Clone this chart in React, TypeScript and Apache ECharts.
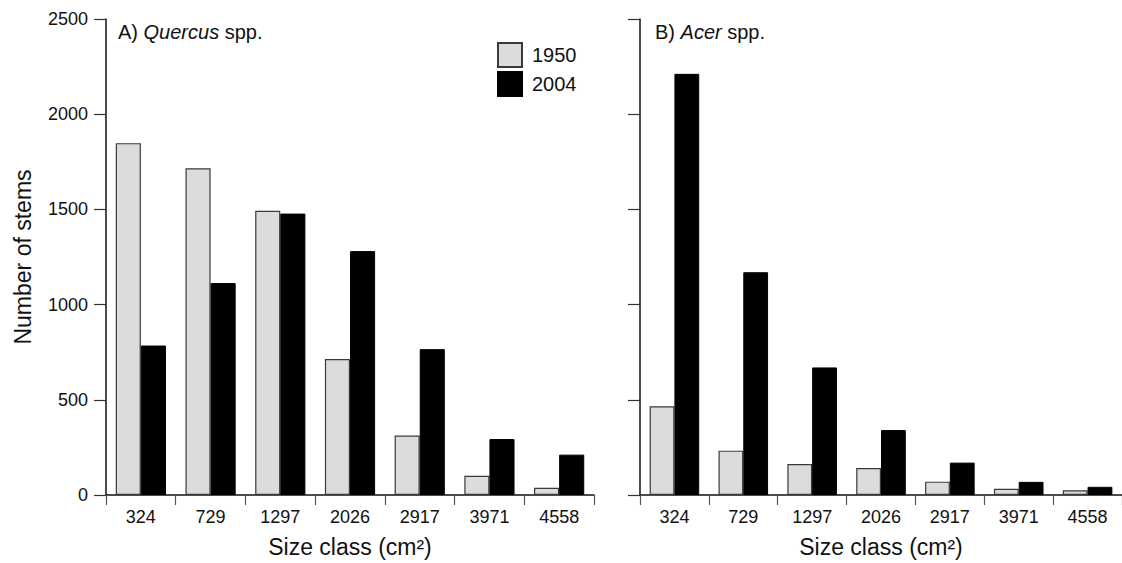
import React, { useEffect, useRef } from "react";
import * as echarts from "echarts";

const sizeClasses = ["324", "729", "1297", "2026", "2917", "3971", "4558"];
const years = ["1950", "2004"];
const quercus1950 = [1848, 1716, 1493, 714, 312, 101, 38];
const quercus2004 = [785, 1113, 1478, 1281, 766, 294, 212];
const acer1950 = [466, 233, 163, 142, 70, 33, 25];
const acer2004 = [2212, 1170, 670, 341, 170, 69, 43];
const yTicks = { min: 0, max: 2500, interval: 500 };

const FONT = "'Liberation Sans', Arial, Helvetica, sans-serif";
const INK = "#111";

export default function App() {
  const ref = useRef<HTMLDivElement>(null);

  useEffect(() => {
    const chart = echarts.init(ref.current as HTMLDivElement, null, { renderer: "svg" });

    const xAxisBase = (gridIndex: number) => ({
      type: "category",
      gridIndex,
      data: sizeClasses,
      boundaryGap: true,
      axisLine: { show: true, lineStyle: { color: INK, width: 1.5 } },
      axisTick: { show: true, alignWithLabel: false, length: 10, lineStyle: { color: "#555", width: 1.2 } },
      axisLabel: { fontSize: 18, margin: 13, color: INK, fontFamily: FONT },
      name: "Size class (cm\u00B2)",
      nameLocation: "middle",
      nameGap: 40,
      nameTextStyle: { fontSize: 23, color: INK, fontFamily: FONT },
      splitLine: { show: false },
    });

    const yAxisBase = (gridIndex: number, showLabels: boolean) => ({
      type: "value",
      gridIndex,
      min: yTicks.min,
      max: yTicks.max,
      interval: yTicks.interval,
      axisLine: { show: true, lineStyle: { color: INK, width: 1.5 } },
      axisTick: { show: true, inside: false, length: 12, lineStyle: { color: "#333", width: 1.2 } },
      axisLabel: {
        show: showLabels,
        fontSize: 18,
        margin: 18,
        color: INK,
        fontFamily: FONT,
        formatter: (v: number) => String(v),
      },
      splitLine: { show: false },
      ...(showLabels
        ? {
            name: "Number of stems",
            nameLocation: "middle",
            nameRotate: 90,
            nameGap: 72,
            nameTextStyle: { fontSize: 23, color: INK, fontFamily: FONT },
          }
        : {}),
    });

    const lightStyle = { color: "#dcdcdc", borderColor: "#3a3a3a", borderWidth: 1.2 };
    const darkStyle = { color: "#000", borderColor: "#000", borderWidth: 1 };

    const bar = (name: string, data: number[], idx: number, style: any) => ({
      type: "bar",
      name,
      data,
      xAxisIndex: idx,
      yAxisIndex: idx,
      barGap: "0%",
      barCategoryGap: "28%",
      itemStyle: style,
      emphasis: { disabled: true },
    });

    chart.setOption({
      animation: false,
      backgroundColor: "#fff",
      textStyle: { fontFamily: FONT },
      title: [
        {
          text: "A) {i|Quercus} spp.",
          left: 118,
          top: 22,
          padding: 0,
          textStyle: {
            fontSize: 20,
            fontWeight: "normal",
            color: INK,
            fontFamily: FONT,
            rich: { i: { fontStyle: "italic", fontSize: 20, color: INK, fontFamily: FONT } },
          },
        },
        {
          text: "B) {i|Acer} spp.",
          left: 655,
          top: 22,
          padding: 0,
          textStyle: {
            fontSize: 20,
            fontWeight: "normal",
            color: INK,
            fontFamily: FONT,
            rich: { i: { fontStyle: "italic", fontSize: 20, color: INK, fontFamily: FONT } },
          },
        },
      ],
      legend: {
        data: years,
        orient: "vertical",
        left: 497,
        top: 42,
        padding: 0,
        itemWidth: 24,
        itemHeight: 24,
        itemGap: 3,
        icon: "rect",
        selectedMode: false,
        textStyle: { fontSize: 20, color: INK, fontFamily: FONT, padding: [0, 0, 0, 5] },
      },
      grid: [
        { left: 106, top: 19, width: 488, height: 480 },
        { left: 640, top: 19, width: 490, height: 480 },
      ],
      xAxis: [xAxisBase(0), xAxisBase(1)],
      yAxis: [yAxisBase(0, true), yAxisBase(1, false)],
      series: [
        bar(years[0], quercus1950, 0, lightStyle),
        bar(years[1], quercus2004, 0, darkStyle),
        bar(years[0], acer1950, 1, lightStyle),
        bar(years[1], acer2004, 1, darkStyle),
      ],
    });

    return () => chart.dispose();
  }, []);

  return (
    <div
      ref={ref}
      style={{ position: "fixed", left: 0, top: 0, width: 1122, height: 563, background: "#fff" }}
    />
  );
}
